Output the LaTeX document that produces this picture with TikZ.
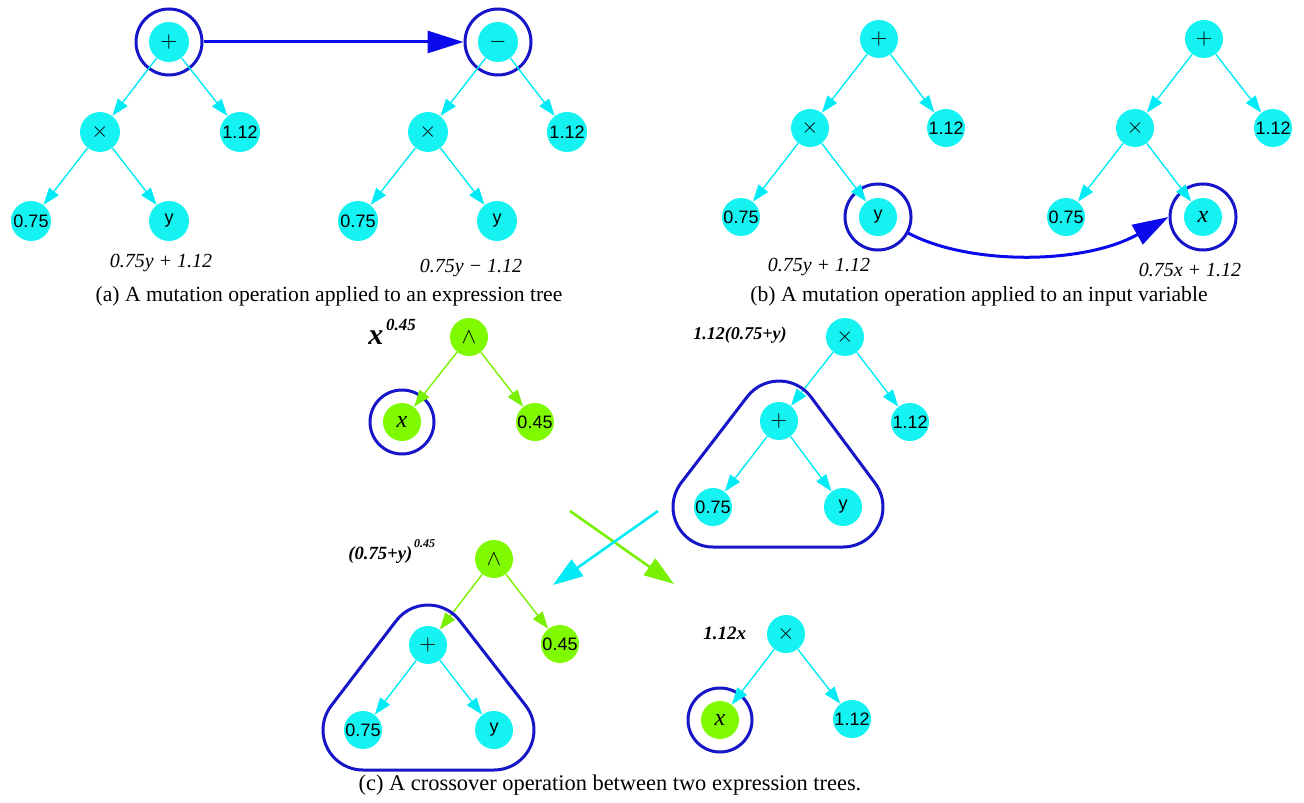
\documentclass[tikz,border=0pt]{standalone}
\usepackage{fontspec}
\setmainfont{Liberation Serif}
\setsansfont{Liberation Sans}
\usetikzlibrary{arrows.meta,calc}

\definecolor{nodecyan}{RGB}{20,242,242}
\definecolor{edgecyan}{RGB}{0,235,245}
\definecolor{nodegreen}{RGB}{128,250,0}
\definecolor{edgegreen}{RGB}{120,240,0}
\definecolor{ringblue}{RGB}{22,22,200}
\definecolor{arrowblue}{RGB}{10,10,235}

% rounded triangle hugging three nodes: top, bottom-left, bottom-right
\newcommand{\hulltri}[4]{%
  \draw[hull] ($(#1)+(-37.4:#4)$) -- ($(#3)+(-37.4:#4)$)
    arc[start angle=-37.4, end angle=90, radius=#4]
    -- ($(#2)+(90:#4)$)
    arc[start angle=90, end angle=217.4, radius=#4]
    -- ($(#1)+(217.4:#4)$)
    arc[start angle=217.4, end angle=322.6, radius=#4] -- cycle;}

\begin{document}
\begin{tikzpicture}[x=0.5pt,y=-0.5pt,
  tn/.style={circle, inner sep=0pt, minimum size=19pt, text=black,
    font=\sffamily\fontsize{9}{9}\selectfont},
  big/.style={minimum size=20pt},
  cy/.style={tn, fill=nodecyan},
  gr/.style={tn, fill=nodegreen},
  op/.style={font=\fontsize{11}{11}\selectfont},
  var/.style={font=\fontsize{12}{12}\selectfont\itshape},
  ring/.style={circle, draw=ringblue, line width=1.5pt, minimum size=33pt, inner sep=0pt},
  hull/.style={draw=ringblue, line width=1.5pt},
  cedge/.style={draw=edgecyan, line width=0.7pt, -{Triangle[length=8.5pt,width=6pt]}},
  gedge/.style={draw=edgegreen, line width=0.7pt, -{Triangle[length=8.5pt,width=6pt]}},
  bigarrow/.style={draw=arrowblue, line width=1.5pt, -{Triangle[length=18pt,width=11pt]}},
  xcarrow/.style={draw=edgecyan, line width=1.3pt, -{Triangle[length=15pt,width=10pt]}},
  xgarrow/.style={draw=edgegreen, line width=1.3pt, -{Triangle[length=15pt,width=10pt]}},
  expr/.style={font=\fontsize{10}{10}\selectfont\itshape},
  bexpr/.style={font=\fontsize{9}{9}\selectfont\bfseries\itshape},
  caption/.style={font=\fontsize{10.8}{12}\selectfont}]

\useasboundingbox (0,0) rectangle (1304,802);

% ---------- (a) mutation of an operator ----------
\node[cy,big,op] (a1p) at (169,42) {$+$};
\node[cy,big,op] (a1m) at (100,132) {$\times$};
\node[cy,big] (a1c) at (240,132) {1.12};
\node[cy,big] (a1k) at (31,221) {0.75};
\node[cy,big] (a1y) at (169,221) {y};
\node[ring] (ra1) at (a1p) {};
\draw[cedge] (a1p) -- (a1m);
\draw[cedge] (a1p) -- (a1c);
\draw[cedge] (a1m) -- (a1k);
\draw[cedge] (a1m) -- (a1y);
\node[expr] (ea1) at (161,263) {0.75y + 1.12};

\node[cy,big,op] (a2p) at (498,42) {$-$};
\node[cy,big,op] (a2m) at (428,132) {$\times$};
\node[cy,big] (a2c) at (567,132) {1.12};
\node[cy,big] (a2k) at (358,221) {0.75};
\node[cy,big] (a2y) at (497,221) {y};
\node[ring] (ra2) at (a2p) {};
\draw[cedge] (a2p) -- (a2m);
\draw[cedge] (a2p) -- (a2c);
\draw[cedge] (a2m) -- (a2k);
\draw[cedge] (a2m) -- (a2y);
\node[expr] (ea2) at (471,268) {0.75y − 1.12};

\draw[bigarrow] (ra1.east) -- (ra2.west);
\node[caption] (capa) at (329,296) {(a) A mutation operation applied to an expression tree};

% ---------- (b) mutation of an input variable ----------
\node[cy,op] (b1p) at (879,39) {$+$};
\node[cy,op] (b1m) at (810,128) {$\times$};
\node[cy] (b1c) at (946,128) {1.12};
\node[cy] (b1k) at (741,217) {0.75};
\node[cy] (b1y) at (878,217) {y};
\node[ring] (rb1) at (b1y) {};
\draw[cedge] (b1p) -- (b1m);
\draw[cedge] (b1p) -- (b1c);
\draw[cedge] (b1m) -- (b1k);
\draw[cedge] (b1m) -- (b1y);
\node[expr] (eb1) at (819,267) {0.75y + 1.12};

\node[cy,op] (b2p) at (1204,39) {$+$};
\node[cy,op] (b2m) at (1135,128) {$\times$};
\node[cy] (b2c) at (1273,128) {1.12};
\node[cy] (b2k) at (1066,217) {0.75};
\node[cy,var] (b2x) at (1203,217) {x};
\node[ring] (rb2) at (b2x) {};
\draw[cedge] (b2p) -- (b2m);
\draw[cedge] (b2p) -- (b2c);
\draw[cedge] (b2m) -- (b2k);
\draw[cedge] (b2m) -- (b2x);
\node[expr] (eb2) at (1190,270) {0.75x + 1.12};

\draw[bigarrow] (rb1.-28) .. controls +(60,32) and +(-85,48) .. (rb2.west);
\node[caption] (capb) at (979,296) {(b) A mutation operation applied to an input variable};

% ---------- (c) crossover: parents ----------
\node[gr,op] (g1p) at (469,337) {$\wedge$};
\node[gr,var] (g1x) at (402,422) {x};
\node[gr] (g1c) at (535,422) {0.45};
\node[ring,minimum size=32pt] (rg1) at (g1x) {};
\draw[gedge] (g1p) -- (g1x);
\draw[gedge] (g1p) -- (g1c);
\node[anchor=base west, inner sep=0pt] (lg1) at (368,344)
  {{\fontsize{15}{15}\selectfont\bfseries\itshape x}\raisebox{7pt}{\fontsize{8.5}{8.5}\selectfont\bfseries\itshape\,0.45}};

\node[cy,op] (c1m) at (845,337) {$\times$};
\node[cy,op] (c1p) at (779,421) {$+$};
\node[cy] (c1c) at (910,422) {1.12};
\node[cy] (c1k) at (713,507) {0.75};
\node[cy] (c1y) at (843,507) {y};
\draw[cedge] (c1m) -- (c1p);
\draw[cedge] (c1m) -- (c1c);
\draw[cedge] (c1p) -- (c1k);
\draw[cedge] (c1p) -- (c1y);
\hulltri{c1p}{c1k}{c1y}{40}
\node[bexpr] (lc1) at (740,335) {1.12(0.75+y)};

% ---------- (c) crossover: exchange ----------
\coordinate (gs) at (570,511);
\coordinate (ge) at (674,584);
\coordinate (cs) at (658,511);
\coordinate (ce) at (553,585);
\draw[xgarrow] (gs) -- (ge);
\draw[xcarrow] (cs) -- (ce);

% ---------- (c) crossover: offspring ----------
\node[gr,op] (g2p) at (494,559) {$\wedge$};
\node[cy,op] (g2s) at (428,645) {$+$};
\node[gr] (g2c) at (560,644) {0.45};
\node[cy] (g2k) at (363,730) {0.75};
\node[cy] (g2y) at (494,730) {y};
\draw[gedge] (g2p) -- (g2s);
\draw[gedge] (g2p) -- (g2c);
\draw[cedge] (g2s) -- (g2k);
\draw[cedge] (g2s) -- (g2y);
\hulltri{g2s}{g2k}{g2y}{40}
\node[anchor=base west, inner sep=0pt] (lg2) at (348,559)
  {{\fontsize{9.3}{9.3}\selectfont\bfseries\itshape (0.75+y)}\raisebox{6pt}{\fontsize{6}{6}\selectfont\bfseries\itshape\,0.45}};

\node[cy,op] (c2m) at (786,634) {$\times$};
\node[gr,var] (c2x) at (720,720) {x};
\node[cy] (c2c) at (852,719) {1.12};
\node[ring,minimum size=32pt] (rc2) at (c2x) {};
\draw[cedge] (c2m) -- (c2x);
\draw[cedge] (c2m) -- (c2c);
\node[anchor=base west, inner sep=0pt, font=\fontsize{9.5}{9.5}\selectfont\bfseries\itshape] (lc2) at (703,639) {1.12x};

\node[caption, font=\fontsize{11.2}{12}\selectfont] (capc) at (610,785) {(c) A crossover operation between two expression trees.};
\end{tikzpicture}
\end{document}
